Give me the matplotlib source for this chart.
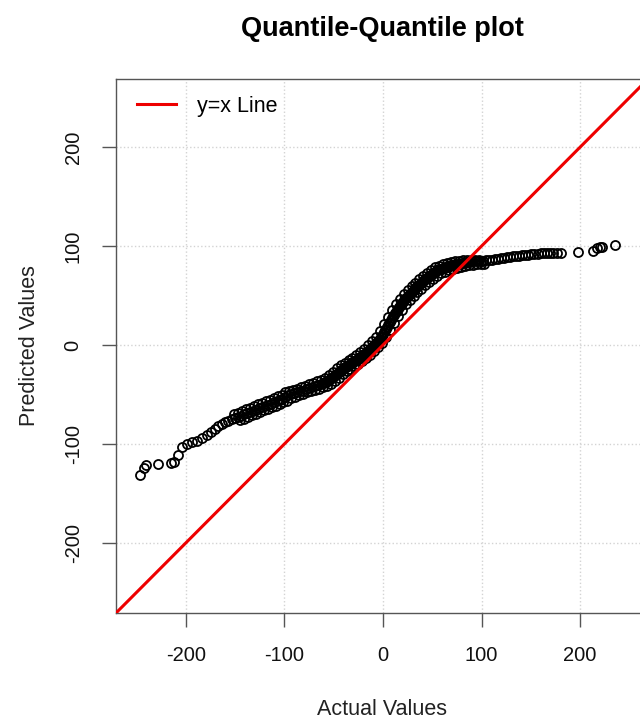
import numpy as np
import matplotlib
matplotlib.use('Agg')
import matplotlib.pyplot as plt

plt.rcParams['font.family'] = ['Liberation Sans', 'DejaVu Sans']
plt.rcParams['axes.unicode_minus'] = False

# sorted actual values (x) and sorted predicted values (y)
actual = [-247, -243, -241, -228, -215, -212, -208, -204, -199, -194, -189, -184,
          -179, -175, -171, -167, -163, -160, -157, -153,
          -150, -147, -144, -141, -138, -135, -132, -129, -126, -123, -120, -117,
          -114, -111, -108, -105, -102, -99, -96, -93, -90, -87, -84, -81, -78,
          -75, -72, -69, -66, -63, -61,
          -60, -59, -58, -57, -56, -55, -54, -53, -52, -51, -50, -49, -48, -47,
          -46, -45, -44, -43, -42, -41, -40, -39, -38, -37, -36, -35, -34, -33,
          -32, -31, -30, -29, -28, -27, -26, -25, -24, -23, -22, -21, -20, -19,
          -18, -17, -16, -15, -14, -13, -12, -11, -10, -9, -8, -7, -6, -5,
          -4, -3, -2, -1, 0, 1, 2, 3, 4, 5, 6, 7, 8, 9, 10, 11, 12, 13, 14, 15,
          16, 17, 18, 19, 20, 21, 22, 23, 24, 25, 26, 27, 28, 29, 30, 31,
          32, 33, 34, 35, 36, 37, 38, 39, 40, 41, 42, 43, 44, 45, 46, 47,
          48, 49, 50, 51, 52, 53, 54, 55, 56, 57, 58, 59, 60, 61, 62, 63, 64,
          65, 66, 67, 68, 69, 70, 72, 74, 76, 78, 80, 82, 84, 86, 88, 90,
          93, 96, 99, 102, 105, 108, 111, 114, 117, 120, 123, 126, 129, 132,
          135, 138, 141, 144, 147, 150,
          153, 157, 160, 163, 166, 170, 173, 177, 181, 198, 213, 217, 220, 222, 236]
predicted = [-131, -124, -121, -120, -119, -118, -111, -103, -100, -98, -97, -94,
             -91, -88, -85, -82, -80, -78, -77, -75,
             -74, -73, -72, -70, -69, -68, -67, -66, -64, -63, -62, -61,
             -60, -58, -57, -56, -55, -53, -51, -50, -49, -48, -47, -46, -44,
             -43, -42, -41, -40, -39, -38.5,
             -38, -37.5, -37, -36.5, -36, -35, -34, -33.5, -33, -32, -31, -30.5, -30, -29,
             -28, -27, -26, -25.5, -25, -24, -23, -22.5, -22, -21.5, -21, -20.5, -20, -19,
             -18, -17.5, -17, -16.5, -16, -15.5, -15, -14, -13, -12.5, -12, -11, -10, -9.5,
             -9, -8, -7, -6, -5, -4, -3, -2, -1, 0, 1, 2, 3, 4,
             5, 6.5, 8, 9.5, 11, 13, 15, 16.5, 18, 20, 22, 23.5, 25, 27, 29, 30.5, 32, 33.5, 35, 36.5,
             38, 39.5, 41, 42.5, 44, 45.5, 47, 48, 49, 50, 51, 52, 53, 54, 55, 56,
             57, 58, 59, 59.5, 60, 61, 62, 63, 64, 65, 66, 66.5, 67, 68, 69, 69.5,
             70, 71, 72, 72.5, 73, 74, 75, 75.5, 76, 76.5, 77, 77, 77, 77.5, 78, 78.5, 79,
             79, 79, 79.5, 80, 80.5, 81, 81, 82, 82, 82, 83, 83, 84, 84, 84, 85,
             85, 85, 85, 85, 86, 86, 86, 87, 87, 88, 88, 89, 89, 90,
             90, 90, 91, 91, 91, 92,
             92, 92, 93, 93, 93, 93, 93, 93, 93, 94, 95, 98, 99, 99, 101]

# points along the upper-left and lower-right edges of the thick middle band
upper_actual = [-151, -147, -143, -139, -135, -131, -127, -123, -119, -115, -111, -107,
                -103, -99, -95, -91, -87, -83, -79, -75, -71, -67, -63, -59, -55, -51,
                -47, -43, -39, -35, -31, -27, -23, -19, -15, -11, -7, -3, 1, 5, 9, 13,
                17, 21, 25, 29, 33, 37, 41, 45, 49, 53, 57, 61, 65, 69, 73, 77, 81,
                85, 89, 93, 97]
upper_predicted = [-70, -69, -67, -65, -64, -62, -60, -59, -57, -56, -54, -52, -51, -48,
                   -47, -45, -44, -42, -41, -39, -38, -36, -35, -33, -30, -27, -23, -20,
                   -18, -15, -13, -10, -7, -4, 0, 4, 8, 14, 21, 28, 35, 41, 47, 52, 56,
                   60, 63, 67, 70, 73, 76, 79, 80, 82, 83, 84, 85, 85, 86, 86, 86, 86, 86]
lower_actual = [-145, -141, -137, -133, -129, -125, -121, -117, -113, -109, -105, -101,
                -97, -93, -89, -85, -81, -77, -73, -69, -65, -61, -57, -53, -49, -45,
                -41, -37, -33, -29, -25, -21, -17, -13, -9, -5, -1, 3, 7, 11, 15, 19,
                23, 27, 31, 35, 39, 43, 47, 51, 55, 59, 63, 67, 71, 75, 79, 83, 87,
                91, 95, 99, 103]
lower_predicted = [-76, -75, -73, -71, -70, -68, -66, -65, -63, -62, -60, -58, -57, -54,
                   -53, -51, -50, -48, -47, -45, -44, -42, -41, -39, -36, -33, -29, -26,
                   -24, -21, -19, -16, -13, -10, -6, -2, 2, 8, 15, 22, 29, 35, 41, 46, 50,
                   54, 57, 61, 64, 67, 70, 73, 74, 76, 77, 78, 79, 80, 81, 81, 82, 82, 82]

ticks = [-200, -100, 0, 100, 200]

fig = plt.figure(figsize=(6.4, 7.2), dpi=100)
ax = fig.add_axes([116/640, 107/720, 532/640, 534/720])

ax.set_xlim(-271, 269)
ax.set_ylim(-271, 269)

for t in ticks:
    ax.axvline(t, color='#d3d3d3', ls=':', lw=1, zorder=0)
    ax.axhline(t, color='#d3d3d3', ls=':', lw=1, zorder=0)

pts = dict(ls='none', marker='o', mfc='none', mec='black', ms=6.5, mew=1.3, zorder=2)
ax.plot(actual, predicted, **pts)
ax.plot(upper_actual, upper_predicted, **pts)
ax.plot(lower_actual, lower_predicted, **pts)
ax.axline((0, 0), slope=1, color='#ee0000', lw=2.2, label='y=x Line', zorder=3)

ax.set_xticks(ticks)
ax.set_yticks(ticks)
ax.set_yticklabels([str(t) for t in ticks], rotation=90, va='center')
ax.tick_params(direction='out', length=10, width=1, color='#555555',
               labelsize=14.5, pad=14, labelcolor='#111111')

for s in ['left', 'bottom', 'top']:
    ax.spines[s].set_color('#555555')
    ax.spines[s].set_linewidth(1)
ax.spines['right'].set_visible(False)

ax.set_xlabel('Actual Values', fontsize=15.5, labelpad=24, color='#222222')
ax.set_ylabel('Predicted Values', fontsize=15.5, labelpad=17, color='#222222')
ax.set_title('Quantile-Quantile plot', fontsize=19.5, fontweight='bold', pad=31)

ax.legend(loc='upper left', frameon=False, fontsize=15.5, handlelength=1.8,
          handletextpad=1.0, bbox_to_anchor=(0.003, 1.005))

fig.savefig('out.png', dpi=100)
